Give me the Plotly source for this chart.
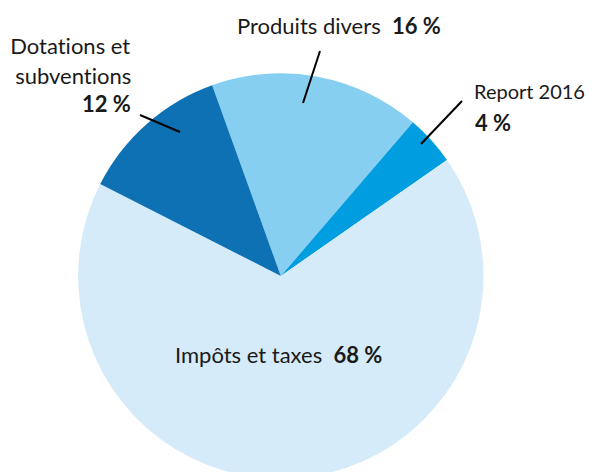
import plotly.graph_objects as go

# ---- data ----
labels = ["Produits divers", "Report 2016", "Impôts et taxes", "Dotations et subventions"]
values = [16.8, 4.0, 67.2, 12.0]          # shares
label_pct = ["16 %", "4 %", "68 %", "12 %"]  # printed percentages
colors = ["#87CFF0", "#009EE0", "#D5EBF9", "#0E71B3"]

W, H = 592, 480
FONT = "Lato"
FS = 22

def px(x):
    return x / W

def py(y):
    return 1 - y / H

cx, cy, r = 280.8, 276.0, 202.7

fig = go.Figure(go.Pie(
    labels=labels, values=values, sort=False, direction="clockwise",
    rotation=-19.8, marker=dict(colors=colors, line=dict(width=0)),
    textinfo="none", hoverinfo="skip", showlegend=False,
    domain=dict(x=[px(cx - r), px(cx + r)], y=[py(cy + r), py(cy - r)]),
))

ann = []
def add(text, x, y, xanchor, size=FS):
    ann.append(dict(text=text, x=px(x), y=py(y), xref="paper", yref="paper",
                    xanchor=xanchor, yanchor="middle", showarrow=False,
                    font=dict(family=FONT, size=size, color="#1a1a1a")))

# Produits divers
add(f"{labels[0]}  <b>{label_pct[0]}</b>", 339, 25, "center")
# Report 2016
add(labels[1], 472, 91, "left", size=20)
add(f"<b>{label_pct[1]}</b>", 473, 123, "left")
# Impôts et taxes
add(f"{labels[2]}  <b>{label_pct[2]}</b>", 278, 354, "center")
# Dotations et subventions
add("Dotations et", 133, 45, "right")
add("subventions", 133, 75, "right")
add(f"<b>{label_pct[3]}</b>", 133, 103, "right")

shapes = []
def line(x0, y0, x1, y1):
    shapes.append(dict(type="line", xref="paper", yref="paper",
                       x0=px(x0), y0=py(y0), x1=px(x1), y1=py(y1),
                       line=dict(color="black", width=2)))

line(320, 51, 303, 103)
line(462, 101, 421, 144)
line(140, 115, 180, 132)

fig.update_layout(width=W, height=H, margin=dict(l=0, r=0, t=0, b=0),
                  paper_bgcolor="white", plot_bgcolor="white",
                  annotations=ann, shapes=shapes)

post = (
    "document.body.style.margin='0';document.body.style.overflow='hidden';"
    "var s=document.createElement('style');"
    "s.textContent='text{font-variant-ligatures:none !important;font-feature-settings:\"liga\" 0 !important;}';"
    "document.head.appendChild(s);"
)
fig.write_html("out.html", config={"displayModeBar": False}, post_script=post)
